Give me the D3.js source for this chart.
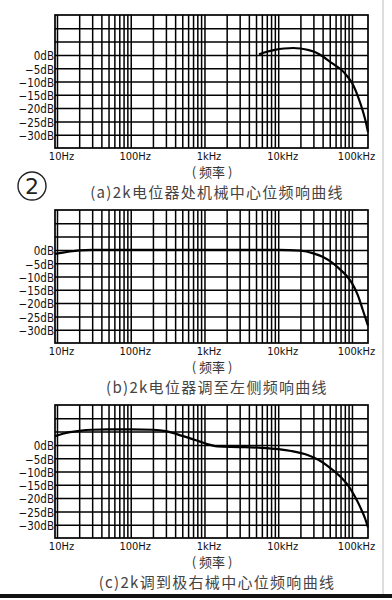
<!DOCTYPE html>
<html>
<head>
<meta charset="utf-8">
<script src="https://cdn.jsdelivr.net/npm/d3@7"></script>
<style>
  body { margin: 0; background: #fff; }
  svg { display: block; }
</style>
</head>
<body>
<div id="chart"></div>
<script>
// tick values and labels
const freqTicks = [10, 100, 1000, 10000, 100000];
const freqLabels = ["10Hz", "100Hz", "1kHz", "10kHz", "100kHz"];
const dbTicks = [0, -5, -10, -15, -20, -25, -30];
const dbLabels = ["0dB", "\u22125dB", "\u221210dB", "\u221215dB", "\u221220dB", "\u221225dB", "\u221230dB"];

// (a) 2k pot at mechanical centre
const freqA = [5500, 7000, 9000, 12000, 16000, 20000, 26000, 32000, 40000, 50000, 60000, 70000, 85000, 100000, 120000, 140000, 155000, 165000];
const gainA = [0.2, 1.2, 1.9, 2.4, 2.6, 2.4, 1.8, 1.0, -0.5, -2.5, -4.0, -5.3, -7.8, -10.5, -15.5, -21, -25.5, -29];

// (b) turned fully left
const freqB = [9.4, 12, 15, 20, 30, 100, 1000, 10000, 20000, 30000, 40000, 55000, 70000, 85000, 100000, 120000, 140000, 165000];
const gainB = [-1.5, -1.0, -0.6, -0.2, 0, 0, 0, 0, -0.3, -1.3, -2.6, -5.0, -7.5, -9.8, -12.5, -17, -22.5, -28.5];

// (c) turned fully right
const freqC = [9.4, 12, 15, 20, 30, 50, 100, 200, 300, 500, 800, 1200, 1500, 3000, 6000, 10000, 15000, 25000, 35000, 50000, 70000, 90000, 110000, 130000, 150000, 165000];
const gainC = [3.3, 4.2, 4.8, 5.3, 5.7, 5.8, 5.8, 5.7, 5.2, 3.4, 1.6, 0.0, -0.6, -0.8, -1.1, -1.6, -2.3, -3.8, -5.6, -8.5, -12, -15.5, -19.5, -23.5, -27.5, -31];

const captions = [
  "(a)2k电位器处机械中心位频响曲线",
  "(b)2k电位器调至左侧频响曲线",
  "(c)2k调到极右械中心位频响曲线"
];
const axisTitle = "( 频率 )";

const panels = [
  { top: 15, freq: freqA, gain: gainA, caption: captions[0] },
  { top: 210, freq: freqB, gain: gainB, caption: captions[1] },
  { top: 405, freq: freqC, gain: gainC, caption: captions[2] }
];

const W = 392, H = 600;
const left = 55, right = 368, ph = 133;

const svg = d3.select("#chart").append("svg")
    .attr("width", W)
    .attr("height", H);

const x = d3.scaleLog().domain([9.4, 165000]).range([left, right]);

// grid frequencies 1..9 per decade
const gridFreqs = [];
for (let k = 10; k <= 100000; k *= 10) {
  for (let m = 1; m <= 9; m++) {
    const f = m * k;
    if (f > x.domain()[0] && f < x.domain()[1]) gridFreqs.push(f);
  }
}
const gridDb = d3.range(-30, 15, 5);

panels.forEach((p, i) => {
  const y = d3.scaleLinear().domain([-35, 15]).range([p.top + ph, p.top]);
  const g = svg.append("g");

  // vertical grid
  g.append("g")
      .attr("transform", `translate(0,${p.top + ph})`)
      .call(d3.axisBottom(x).tickValues(gridFreqs).tickSize(-ph).tickFormat(""))
      .call(s => s.select(".domain").remove())
      .call(s => s.selectAll("line").attr("stroke", "#000").attr("stroke-width", 1.5));

  // horizontal grid
  g.append("g")
      .attr("transform", `translate(${left},0)`)
      .call(d3.axisLeft(y).tickValues(gridDb).tickSize(-(right - left)).tickFormat(""))
      .call(s => s.select(".domain").remove())
      .call(s => s.selectAll("line").attr("stroke", "#000").attr("stroke-width", 1.5));

  // frame
  g.append("rect")
      .attr("x", left).attr("y", p.top)
      .attr("width", right - left).attr("height", ph)
      .attr("fill", "none").attr("stroke", "#000").attr("stroke-width", 1.7);

  // dB labels
  g.append("g")
      .attr("transform", `translate(${left},0)`)
      .call(d3.axisLeft(y).tickValues(dbTicks).tickSize(0).tickPadding(1)
        .tickFormat((d, j) => dbLabels[j]))
      .call(s => s.select(".domain").remove())
      .call(s => s.selectAll("text")
        .attr("dy", "0.42em")
        .attr("fill", "#111")
        .style("font-family", "'Liberation Sans Narrow', 'DejaVu Sans Condensed', sans-serif")
        .style("font-size", "11.5px"));

  // frequency labels
  g.append("g")
      .attr("transform", `translate(4,${p.top + ph})`)
      .call(d3.axisBottom(x).tickValues(freqTicks).tickSize(0).tickPadding(4)
        .tickFormat((d, j) => freqLabels[j]))
      .call(s => s.select(".domain").remove())
      .call(s => s.selectAll("text")
        .attr("fill", "#111")
        .style("font-family", "'Liberation Sans Narrow', 'DejaVu Sans Condensed', sans-serif")
        .style("font-size", "11px"));

  // response curve
  const line = d3.line()
      .x((d, j) => x(p.freq[j]))
      .y(d => y(d))
      .curve(d3.curveMonotoneX);

  g.append("path")
      .datum(p.gain)
      .attr("d", line)
      .attr("fill", "none")
      .attr("stroke", "#000")
      .attr("stroke-width", 2.2);

  // axis title
  g.append("text")
      .attr("x", 212).attr("y", p.top + ph + 29)
      .attr("text-anchor", "middle")
      .attr("fill", "#333")
      .style("font-family", "'Noto Sans CJK SC', sans-serif")
      .style("font-size", "13px")
      .text(axisTitle);

  // caption
  g.append("text")
      .attr("x", 217).attr("y", p.top + ph + 50)
      .attr("text-anchor", "middle")
      .attr("fill", "#444")
      .style("font-family", "'Noto Sans CJK SC', sans-serif")
      .style("font-size", "15px")
      .style("letter-spacing", "1.3px")
      .text(p.caption);
});

// circled figure number
svg.append("circle")
    .attr("cx", 32).attr("cy", 186).attr("r", 14)
    .attr("fill", "none").attr("stroke", "#222").attr("stroke-width", 1.4);
svg.append("text")
    .attr("x", 32).attr("y", 194)
    .attr("text-anchor", "middle")
    .attr("fill", "#222")
    .style("font-family", "'DejaVu Sans', sans-serif")
    .style("font-size", "22px")
    .text("2");

// scan border
svg.append("line")
    .attr("x1", 383).attr("x2", 383).attr("y1", 0).attr("y2", 594)
    .attr("stroke", "#bbb").attr("stroke-width", 1);
svg.append("rect")
    .attr("x", 0).attr("y", 594).attr("width", W).attr("height", 4)
    .attr("fill", "#111");
</script>
</body>
</html>
